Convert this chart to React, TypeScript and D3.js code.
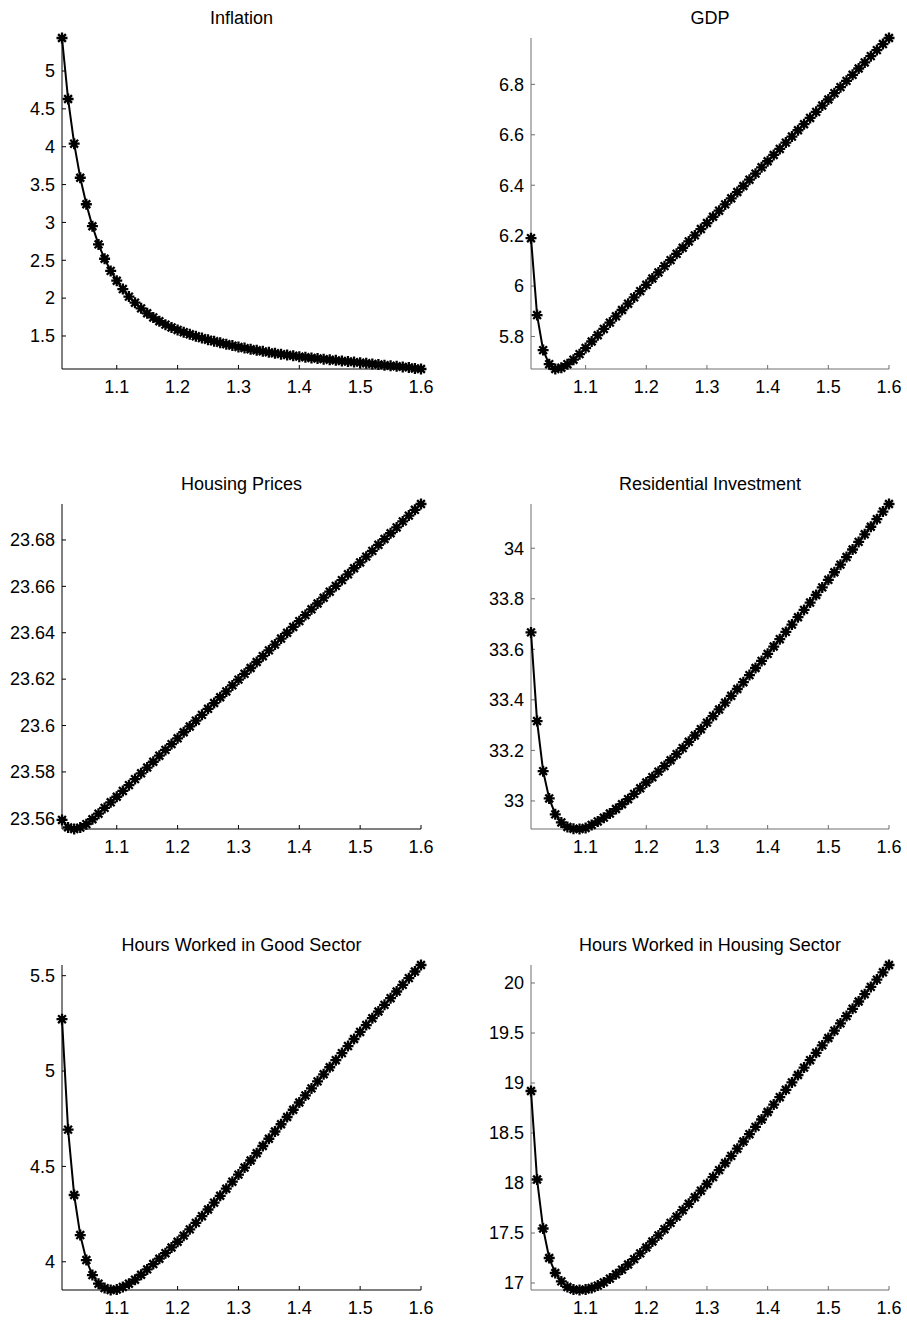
import React from "react";
import * as d3 from "d3";

// Monetary policy response grid: x is the policy coefficient
const xValues = [
  1.01, 1.02, 1.03, 1.04, 1.05, 1.06, 1.07, 1.08, 1.09, 1.1,
  1.11, 1.12, 1.13, 1.14, 1.15, 1.16, 1.17, 1.18, 1.19, 1.2,
  1.21, 1.22, 1.23, 1.24, 1.25, 1.26, 1.27, 1.28, 1.29, 1.3,
  1.31, 1.32, 1.33, 1.34, 1.35, 1.36, 1.37, 1.38, 1.39, 1.4,
  1.41, 1.42, 1.43, 1.44, 1.45, 1.46, 1.47, 1.48, 1.49, 1.5,
  1.51, 1.52, 1.53, 1.54, 1.55, 1.56, 1.57, 1.58, 1.59, 1.6,
];

const inflation = [
  5.436, 4.63, 4.04, 3.59, 3.24, 2.95, 2.71, 2.52, 2.36, 2.23,
  2.12, 2.02, 1.94, 1.865, 1.8, 1.745, 1.695, 1.65, 1.613, 1.58,
  1.55, 1.522, 1.496, 1.472, 1.45, 1.43, 1.41, 1.391, 1.373, 1.355,
  1.34, 1.325, 1.311, 1.297, 1.284, 1.271, 1.26, 1.249, 1.238, 1.227,
  1.219, 1.21, 1.202, 1.194, 1.186, 1.178, 1.17, 1.163, 1.155, 1.148,
  1.139, 1.131, 1.123, 1.115, 1.107, 1.1, 1.092, 1.085, 1.071, 1.064,
];

const gdp = [
  6.19, 5.885, 5.746, 5.69, 5.671, 5.676, 5.69, 5.708, 5.73, 5.754,
  5.78, 5.805, 5.83, 5.855, 5.88, 5.905, 5.93, 5.955, 5.98, 6.005,
  6.03, 6.054, 6.079, 6.103, 6.128, 6.152, 6.177, 6.201, 6.226, 6.25,
  6.275, 6.299, 6.324, 6.348, 6.373, 6.397, 6.422, 6.446, 6.471, 6.495,
  6.52, 6.544, 6.569, 6.593, 6.618, 6.642, 6.667, 6.691, 6.716, 6.74,
  6.765, 6.789, 6.814, 6.838, 6.863, 6.887, 6.912, 6.936, 6.96, 6.984,
];

const housingPrices = [
  23.5593, 23.5561, 23.5554, 23.556, 23.5575, 23.5596, 23.562, 23.5645, 23.5669, 23.5693,
  23.5718, 23.5743, 23.5769, 23.5794, 23.5819, 23.5844, 23.587, 23.5895, 23.592, 23.5945,
  23.5971, 23.5996, 23.6021, 23.6046, 23.6072, 23.6097, 23.6122, 23.6147, 23.6173, 23.6198,
  23.6223, 23.6248, 23.6274, 23.6299, 23.6324, 23.6349, 23.6375, 23.64, 23.6425, 23.645,
  23.6476, 23.6501, 23.6526, 23.6551, 23.6577, 23.6602, 23.6627, 23.6652, 23.6678, 23.6703,
  23.6728, 23.6753, 23.6779, 23.6804, 23.6829, 23.6854, 23.688, 23.6905, 23.693, 23.6955,
];

const residentialInvestment = [
  33.667, 33.316, 33.118, 33.01, 32.947, 32.915, 32.897, 32.89, 32.889, 32.893,
  32.905, 32.919, 32.934, 32.95, 32.968, 32.987, 33.007, 33.028, 33.05, 33.073,
  33.094, 33.116, 33.138, 33.161, 33.185, 33.209, 33.234, 33.259, 33.284, 33.31,
  33.336, 33.362, 33.389, 33.416, 33.443, 33.47, 33.498, 33.526, 33.554, 33.582,
  33.611, 33.64, 33.669, 33.698, 33.727, 33.756, 33.785, 33.815, 33.845, 33.875,
  33.905, 33.935, 33.965, 33.995, 34.025, 34.055, 34.085, 34.115, 34.145, 34.175,
];

const hoursGoodSector = [
  5.272, 4.693, 4.35, 4.14, 4.009, 3.93, 3.885, 3.862, 3.852, 3.855,
  3.868, 3.885, 3.906, 3.932, 3.96, 3.988, 4.016, 4.045, 4.075, 4.105,
  4.137, 4.17, 4.204, 4.239, 4.274, 4.31, 4.346, 4.383, 4.42, 4.457,
  4.494, 4.531, 4.569, 4.607, 4.645, 4.683, 4.721, 4.759, 4.797, 4.835,
  4.872, 4.909, 4.946, 4.983, 5.02, 5.057, 5.094, 5.131, 5.168, 5.205,
  5.241, 5.277, 5.312, 5.347, 5.382, 5.417, 5.452, 5.487, 5.522, 5.556,
];

const hoursHousingSector = [
  18.92, 18.035, 17.545, 17.25, 17.1, 17.016, 16.96, 16.935, 16.93, 16.935,
  16.95, 16.974, 17.006, 17.044, 17.087, 17.134, 17.185, 17.239, 17.296, 17.355,
  17.415, 17.476, 17.538, 17.601, 17.664, 17.728, 17.792, 17.857, 17.923, 17.99,
  18.059, 18.129, 18.2, 18.271, 18.343, 18.415, 18.488, 18.561, 18.635, 18.71,
  18.784, 18.858, 18.932, 19.006, 19.08, 19.154, 19.228, 19.302, 19.376, 19.45,
  19.523, 19.596, 19.669, 19.742, 19.815, 19.888, 19.961, 20.034, 20.107, 20.18,
];

const titles = [
  "Inflation",
  "GDP",
  "Housing Prices",
  "Residential Investment",
  "Hours Worked in Good Sector",
  "Hours Worked in Housing Sector",
];

const xTicks = [1.1, 1.2, 1.3, 1.4, 1.5, 1.6];
const inflationTicks = [1.5, 2, 2.5, 3, 3.5, 4, 4.5, 5];
const gdpTicks = [5.8, 6, 6.2, 6.4, 6.6, 6.8];
const housingPriceTicks = [23.56, 23.58, 23.6, 23.62, 23.64, 23.66, 23.68];
const residentialTicks = [33, 33.2, 33.4, 33.6, 33.8, 34];
const hoursGoodTicks = [4, 4.5, 5, 5.5];
const hoursHousingTicks = [17, 17.5, 18, 18.5, 19, 19.5, 20];

const seriesList = [inflation, gdp, housingPrices, residentialInvestment, hoursGoodSector, hoursHousingSector];
const tickList = [inflationTicks, gdpTicks, housingPriceTicks, residentialTicks, hoursGoodTicks, hoursHousingTicks];

// Layout of the 3x2 grid of axes (pixel boxes)
const columns = [
  { left: 62, right: 421, axisColor: "#000" },
  { left: 531, right: 889, axisColor: "#6e6e6e" },
];
const rows = [
  { top: 38, bottom: 369 },
  { top: 504, bottom: 829 },
  { top: 965, bottom: 1290 },
];

const FONT = "'Liberation Sans', Arial, Helvetica, sans-serif";
const fmt = d3.format("~g");
// eight-armed asterisk marker
const STAR = "M-5.5,0H5.5M0,-5.5V5.5M-3.9,-3.9L3.9,3.9M-3.9,3.9L3.9,-3.9";

function Panel({ index }: { index: number }) {
  const col = columns[index % 2];
  const row = rows[Math.floor(index / 2)];
  const values = seriesList[index];
  const yTicks = tickList[index];

  const x = d3.scaleLinear().domain(d3.extent(xValues) as [number, number]).range([col.left, col.right]);
  const y = d3.scaleLinear().domain(d3.extent(values) as [number, number]).range([row.bottom, row.top]);

  const line = d3
    .line<number>()
    .x((_, i) => x(xValues[i]))
    .y((d) => y(d));

  const cx = (col.left + col.right) / 2;

  return (
    <g>
      <text x={cx} y={row.top - 14} textAnchor="middle" fontSize={18} fontFamily={FONT} fill="#000">
        {titles[index]}
      </text>
      <line x1={col.left} x2={col.left} y1={row.top} y2={row.bottom} stroke={col.axisColor} strokeWidth={1} />
      <line x1={col.left} x2={col.right} y1={row.bottom} y2={row.bottom} stroke={col.axisColor} strokeWidth={1} />
      {yTicks.map((t) => (
        <g key={"y" + t}>
          <line x1={col.left} x2={col.left + 4} y1={y(t)} y2={y(t)} stroke={col.axisColor} strokeWidth={1} />
          <text
            x={col.left - 7}
            y={y(t)}
            dy="0.35em"
            textAnchor="end"
            fontSize={18}
            fontFamily={FONT}
            fill="#000"
          >
            {fmt(t)}
          </text>
        </g>
      ))}
      {xTicks.map((t) => (
        <g key={"x" + t}>
          <line x1={x(t)} x2={x(t)} y1={row.bottom} y2={row.bottom - 4} stroke={col.axisColor} strokeWidth={1} />
          <text x={x(t)} y={row.bottom + 24} textAnchor="middle" fontSize={18} fontFamily={FONT} fill="#000">
            {fmt(t)}
          </text>
        </g>
      ))}
      <path d={line(values) || ""} fill="none" stroke="#000" strokeWidth={2} />
      {values.map((v, i) => (
        <path
          key={i}
          d={STAR}
          transform={`translate(${x(xValues[i])},${y(v)})`}
          fill="none"
          stroke="#000"
          strokeWidth={2.3}
        />
      ))}
    </g>
  );
}

export default function App() {
  return (
    <svg
      width={907}
      height={1321}
      style={{ position: "absolute", left: 0, top: 0, background: "#fff" }}
    >
      <rect width={907} height={1321} fill="#fff" />
      {titles.map((_, i) => (
        <Panel key={i} index={i} />
      ))}
    </svg>
  );
}
